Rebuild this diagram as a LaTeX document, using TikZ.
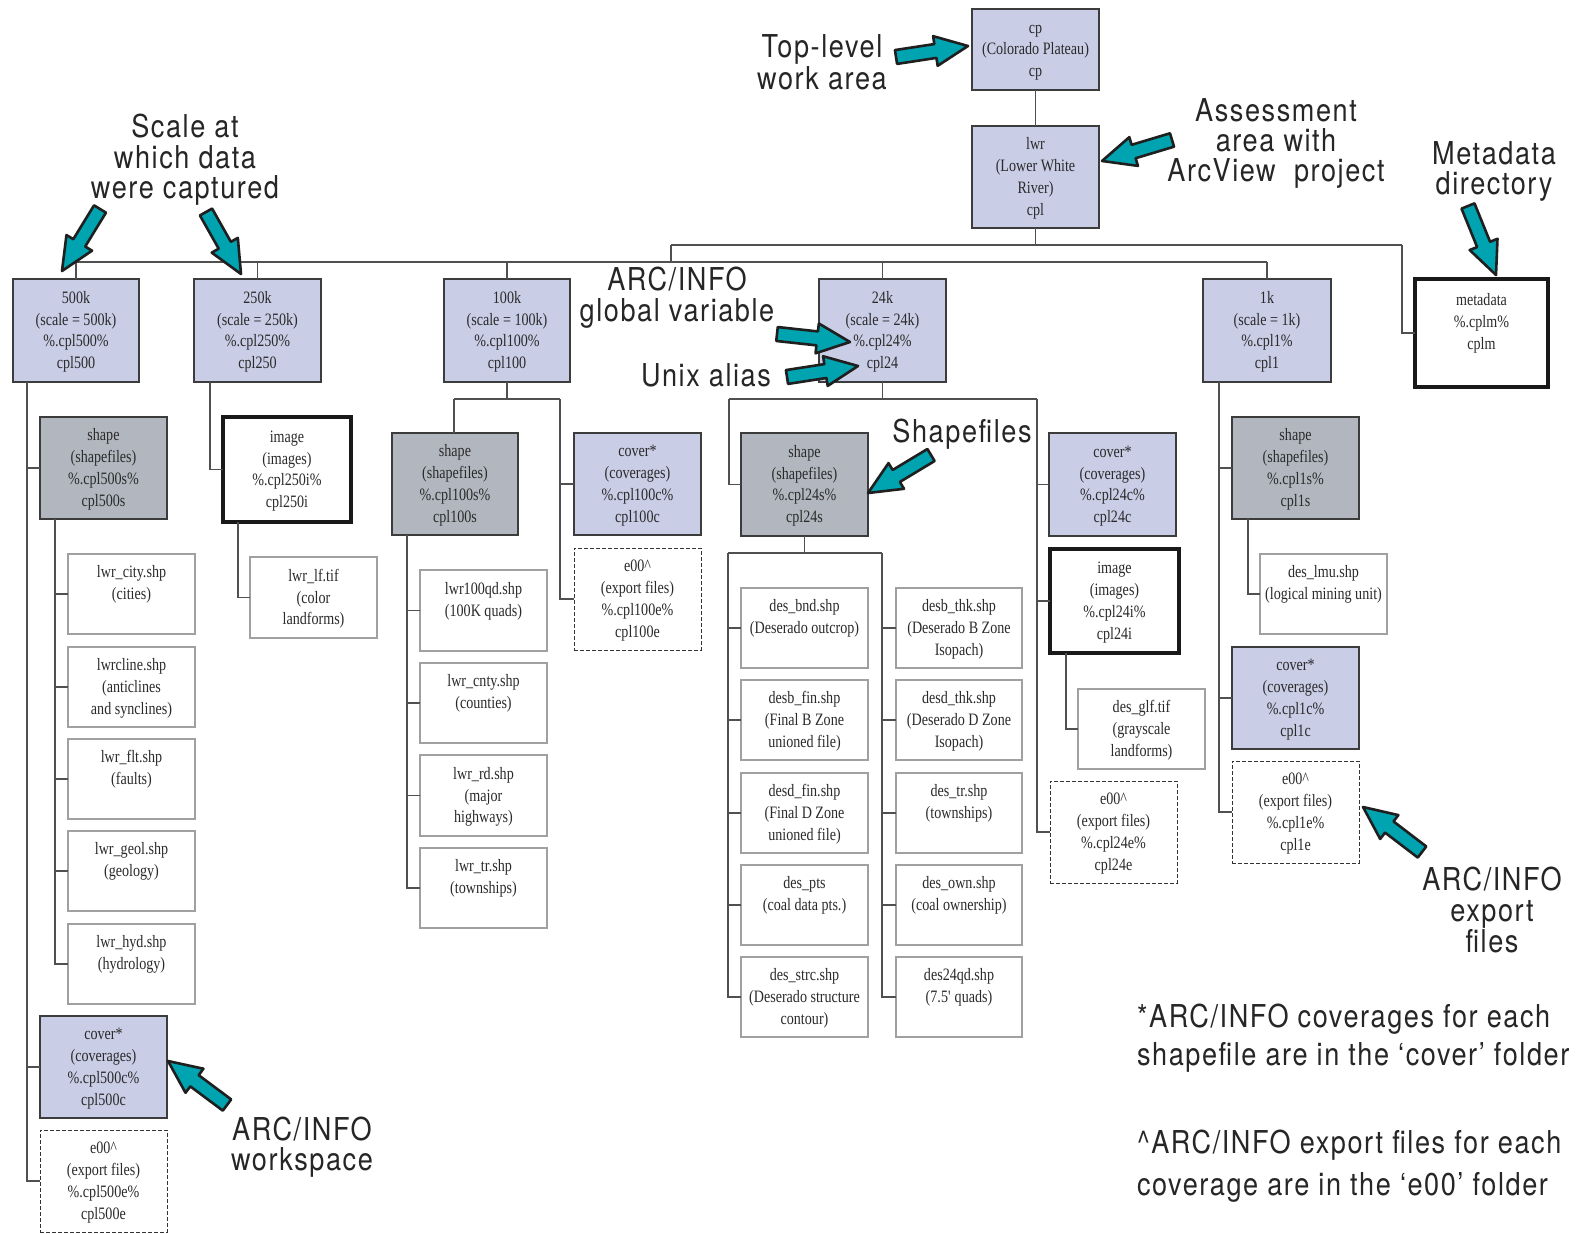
\documentclass[tikz,border=0pt]{standalone}
\usepackage{fontspec}
\usetikzlibrary{calc}
\newfontfamily\boxfont[FakeStretch=0.81]{Liberation Serif}
\newfontfamily\annfont[FakeStretch=0.86,LetterSpace=5]{TeX Gyre Heros}

\definecolor{bluefill}{HTML}{C9CDE6}
\definecolor{grayfill}{HTML}{B2B7BF}
\definecolor{arrowteal}{HTML}{00A3B0}
\definecolor{edge}{HTML}{3C3C3C}
\definecolor{lightedge}{HTML}{A0A0A0}
\definecolor{linec}{HTML}{505050}
\definecolor{txtc}{HTML}{2A2A2A}

\tikzset{
  dirbox/.style={draw=edge, line width=1.3pt, inner sep=0pt, outer sep=0pt,
    font=\boxfont\fontsize{17.4}{21.8}\selectfont, align=center, text=txtc},
  scalebox/.style={dirbox, fill=bluefill},
  shapebox/.style={dirbox, fill=grayfill},
  filebox/.style={dirbox, draw=lightedge, fill=white},
  imgbox/.style={dirbox, draw=black!90, line width=3.2pt, fill=white},
  metabox/.style={imgbox, line width=4.5pt},
  exportbox/.style={dirbox, draw=black!80, dash pattern=on 4pt off 2pt, line width=1pt, fill=white},
  conn/.style={draw=linec, line width=1.5pt},
  note/.style={font=\annfont\fontsize{31.5}{#1}\selectfont, text=black!85,
    align=center, inner sep=0pt, outer sep=0pt, anchor=north},
  note/.default=31,
  fatarr/.style={fill=arrowteal, draw=black!88, line width=2.6pt, line join=round},
}

% box given by its corners: style, name, x1, y1, x2, y2, text
% (the rules give every box the same line metrics, so the text sits evenly)
\newcommand\bx[7]{%
  \node[#1, minimum width={#5-#3}, minimum height={#6-#4}] (#2)
    at ({(#3+#5)/2},{(#4+#6)/2}) {\rule{0pt}{15pt}#7\rule[-4pt]{0pt}{4pt}};}
% block arrow from a tail point to a tip point
\newcommand\fatarrow[2]{%
  \draw[fatarr] let \p1=(#1), \p2=(#2),
    \n1={atan2(\y2-\y1,\x2-\x1)}, \n2={veclen(\x2-\x1,\y2-\y1)-33pt} in
    ($(\p1)+(\n1+90:7pt)$) -- ($(\p1)+(\n1:\n2)+(\n1+90:7pt)$)
    -- ($(\p1)+(\n1:\n2)+(\n1+90:15pt)$) -- (\p2)
    -- ($(\p1)+(\n1:\n2)+(\n1-90:15pt)$) -- ($(\p1)+(\n1:\n2)+(\n1-90:7pt)$)
    -- ($(\p1)+(\n1-90:7pt)$) -- cycle;}
\newcommand\ph{\phantom{x}}

\begin{document}
\begin{tikzpicture}[x=1pt, y=-1pt]
\fill[white] (0,0) rectangle (1594,1233);
\useasboundingbox (0,0) rectangle (1594,1233);

% top of the tree
\bx{scalebox}{cp}{972}{9}{1099}{90}{cp\\(Colorado Plateau)\\cp}
\bx{scalebox}{lwr}{972}{126}{1099}{228}{lwr\\(Lower White\\River)\\cpl}
\bx{metabox}{meta}{1415}{279}{1548}{387}{metadata\\\%.cplm\%\\cplm\\\ph}

% scale folders
\bx{scalebox}{k500}{13}{279}{139}{382}{500k\\(scale = 500k)\\\%.cpl500\%\\cpl500}
\bx{scalebox}{k250}{194}{279}{321}{382}{250k\\(scale = 250k)\\\%.cpl250\%\\cpl250}
\bx{scalebox}{k100}{444}{279}{570}{382}{100k\\(scale = 100k)\\\%.cpl100\%\\cpl100}
\bx{scalebox}{k24}{819}{279}{946}{382}{24k\\(scale = 24k)\\\%.cpl24\%\\cpl24}
\bx{scalebox}{k1}{1203}{279}{1331}{382}{1k\\(scale = 1k)\\\%.cpl1\%\\cpl1}

% 500k branch
\bx{shapebox}{shp500}{40}{417}{167}{519}{shape\\(shapefiles)\\\%.cpl500s\%\\cpl500s}
\bx{filebox}{city}{68}{554}{195}{634}{lwr\_city.shp\\(cities)\\\ph}
\bx{filebox}{cline}{68}{647}{195}{727}{lwrcline.shp\\(anticlines\\and synclines)}
\bx{filebox}{flt}{68}{739}{195}{819}{lwr\_flt.shp\\(faults)\\\ph}
\bx{filebox}{geol}{68}{831}{195}{911}{lwr\_geol.shp\\(geology)\\\ph}
\bx{filebox}{hyd}{68}{924}{195}{1004}{lwr\_hyd.shp\\(hydrology)\\\ph}
\bx{scalebox}{cov500}{40}{1016}{167}{1118}{cover*\\(coverages)\\\%.cpl500c\%\\cpl500c}
\bx{exportbox}{e500}{40}{1130}{167}{1232}{e00\textasciicircum\\(export files)\\\%.cpl500e\%\\cpl500e}

% 250k branch
\bx{imgbox}{img250}{223}{417}{351}{522}{image\\(images)\\\%.cpl250i\%\\cpl250i}
\bx{filebox}{lf}{250}{557}{377}{638}{lwr\_lf.tif\\(color\\landforms)}

% 100k branch
\bx{shapebox}{shp100}{392}{433}{518}{535}{shape\\(shapefiles)\\\%.cpl100s\%\\cpl100s}
\bx{scalebox}{cov100}{574}{433}{701}{535}{cover*\\(coverages)\\\%.cpl100c\%\\cpl100c}
\bx{exportbox}{e100}{574}{548}{701}{650}{e00\textasciicircum\\(export files)\\\%.cpl100e\%\\cpl100e}
\bx{filebox}{qd100}{420}{570}{547}{651}{lwr100qd.shp\\(100K quads)\\\ph}
\bx{filebox}{cnty}{420}{663}{547}{743}{lwr\_cnty.shp\\(counties)\\\ph}
\bx{filebox}{rd}{420}{755}{547}{836}{lwr\_rd.shp\\(major\\highways)}
\bx{filebox}{tr100}{420}{848}{547}{928}{lwr\_tr.shp\\(townships)\\\ph}

% 24k branch
\bx{shapebox}{shp24}{741}{433}{868}{536}{shape\\(shapefiles)\\\%.cpl24s\%\\cpl24s}
\bx{scalebox}{cov24}{1049}{433}{1176}{536}{cover*\\(coverages)\\\%.cpl24c\%\\cpl24c}
\bx{imgbox}{img24}{1050}{549}{1179}{653}{image\\(images)\\\%.cpl24i\%\\cpl24i}
\bx{filebox}{glf}{1078}{689}{1205}{769}{des\_glf.tif\\(grayscale\\landforms)}
\bx{exportbox}{e24}{1050}{781}{1177}{883}{e00\textasciicircum\\(export files)\\\%.cpl24e\%\\cpl24e}
\bx{filebox}{bnd}{741}{588}{868}{668}{des\_bnd.shp\\(Deserado outcrop)\\\ph}
\bx{filebox}{bfin}{741}{680}{868}{760}{desb\_fin.shp\\(Final B Zone\\unioned file)}
\bx{filebox}{dfin}{741}{773}{868}{853}{desd\_fin.shp\\(Final D Zone\\unioned file)}
\bx{filebox}{pts}{741}{865}{868}{945}{des\_pts\\(coal data pts.)\\\ph}
\bx{filebox}{strc}{741}{957}{868}{1037}{des\_strc.shp\\(Deserado structure\\contour)}
\bx{filebox}{bthk}{896}{588}{1022}{668}{desb\_thk.shp\\(Deserado B Zone\\Isopach)}
\bx{filebox}{dthk}{896}{680}{1022}{760}{desd\_thk.shp\\(Deserado D Zone\\Isopach)}
\bx{filebox}{tr24}{896}{773}{1022}{853}{des\_tr.shp\\(townships)\\\ph}
\bx{filebox}{own}{896}{865}{1022}{945}{des\_own.shp\\(coal ownership)\\\ph}
\bx{filebox}{qd24}{896}{957}{1022}{1037}{des24qd.shp\\(7.5\textquotesingle{} quads)\\\ph}

% 1k branch
\bx{shapebox}{shp1}{1232}{417}{1359}{519}{shape\\(shapefiles)\\\%.cpl1s\%\\cpl1s}
\bx{filebox}{lmu}{1260}{554}{1387}{634}{des\_lmu.shp\\(logical mining unit)\\\ph}
\bx{scalebox}{cov1}{1232}{647}{1359}{749}{cover*\\(coverages)\\\%.cpl1c\%\\cpl1c}
\bx{exportbox}{e1}{1232}{761}{1359}{863}{e00\textasciicircum\\(export files)\\\%.cpl1e\%\\cpl1e}

% ---- connectors ----
\coordinate (hubTop) at (1036,245);
\coordinate (hubL) at (671,245);
\coordinate (hubR) at (1402,245);
\coordinate (busy) at (671,262);
\draw[conn] (cp.south) -- (lwr.north);
\draw[conn] (lwr.south) -- (lwr.south |- hubTop);
\draw[conn] (hubL) -- (hubR);
\draw[conn] (hubR) |- (meta.west);
\draw[conn] (hubL) -- (busy);
\draw[conn] (k500.north |- busy) -- (k1.north |- busy);
\foreach \n in {k500,k250,k100,k24,k1} \draw[conn] (\n.north |- busy) -- (\n.north);

% 500k
\coordinate (t500) at (27,382);
\draw[conn] (t500) |- (e500.west);
\foreach \n in {shp500,cov500} \draw[conn] (t500 |- \n.west) -- (\n.west);
\coordinate (t500s) at (55,519);
\draw[conn] (t500s) |- (hyd.west);
\foreach \n in {city,cline,flt,geol} \draw[conn] (t500s |- \n.west) -- (\n.west);

% 250k
\coordinate (t250) at (210,382);
\draw[conn] (t250) |- (img250.west);
\coordinate (t250i) at (238,522);
\draw[conn] (t250i) |- (lf.west);

% 100k
\coordinate (j100L) at (454,399);
\coordinate (j100R) at (560,399);
\draw[conn] (k100.south) -- (k100.south |- j100L);
\draw[conn] (j100L) -- (j100R);
\draw[conn] (j100L) -- (j100L |- shp100.north);
\draw[conn] (j100R) |- (e100.west);
\draw[conn] (j100R |- cov100.west) -- (cov100.west);
\coordinate (t100s) at (407,535);
\draw[conn] (t100s) |- (tr100.west);
\foreach \n in {qd100,cnty,rd} \draw[conn] (t100s |- \n.west) -- (\n.west);

% 24k
\coordinate (j24L) at (729,399);
\coordinate (j24R) at (1037,399);
\draw[conn] (k24.south) -- (k24.south |- j24L);
\draw[conn] (j24L) -- (j24R);
\draw[conn] (j24L) |- (shp24.west);
\draw[conn] (j24R) |- (e24.west);
\foreach \n in {cov24,img24} \draw[conn] (j24R |- \n.west) -- (\n.west);
\coordinate (j24sL) at (728,553);
\coordinate (j24sR) at (882,553);
\draw[conn] (shp24.south) -- (shp24.south |- j24sL);
\draw[conn] (j24sL) -- (j24sR);
\draw[conn] (j24sL) |- (strc.west);
\draw[conn] (j24sR) |- (qd24.west);
\foreach \n in {bnd,bfin,dfin,pts} \draw[conn] (j24sL |- \n.west) -- (\n.west);
\foreach \n in {bthk,dthk,tr24,own} \draw[conn] (j24sR |- \n.west) -- (\n.west);
\coordinate (t24i) at (1066,653);
\draw[conn] (t24i) |- (glf.west);

% 1k
\coordinate (t1) at (1219,382);
\draw[conn] (t1) |- (e1.west);
\foreach \n in {shp1,cov1} \draw[conn] (t1 |- \n.west) -- (\n.west);
\coordinate (t1s) at (1248,519);
\draw[conn] (t1s) |- (lmu.west);

% ---- pointer arrows ----
\coordinate (aTopT) at (896,57);   \coordinate (aTopH) at (968,46);
\coordinate (aAssT) at (1172,140); \coordinate (aAssH) at (1102,161);
\coordinate (aMetaT) at (1468,206);\coordinate (aMetaH) at (1496,275);
\coordinate (aSc1T) at (100,209);  \coordinate (aSc1H) at (62,271);
\coordinate (aSc2T) at (206,212);  \coordinate (aSc2H) at (241,274);
\coordinate (aGlobT) at (777,334); \coordinate (aGlobH) at (850,342);
\coordinate (aUnixT) at (787,377); \coordinate (aUnixH) at (858,366);
\coordinate (aShpT) at (931,455);  \coordinate (aShpH) at (868,493);
\coordinate (aWsT) at (227,1105);  \coordinate (aWsH) at (168,1061);
\coordinate (aExT) at (1422,852);  \coordinate (aExH) at (1363,807);
\fatarrow{aTopT}{aTopH}
\fatarrow{aAssT}{aAssH}
\fatarrow{aMetaT}{aMetaH}
\fatarrow{aSc1T}{aSc1H}
\fatarrow{aSc2T}{aSc2H}
\fatarrow{aGlobT}{aGlobH}
\fatarrow{aUnixT}{aUnixH}
\fatarrow{aShpT}{aShpH}
\fatarrow{aWsT}{aWsH}
\fatarrow{aExT}{aExH}

% ---- annotations ----
\node[note=32] (nTop) at (822,35) {Top-level\\work area};
\node[note=30.5] (nScale) at (185,114) {Scale at\\which data\\were captured};
\node[note=31] (nGlob) at (677,267) {ARC/INFO\\global variable};
\node[note] (nUnix) at (706,364) {Unix alias};
\node[note] (nShp) at (962,419) {Shapefiles};
\node[note=30] (nAss) at (1276,99) {Assessment\\area with\\ArcView~~project};
\node[note=29.5] (nMeta) at (1494,142) {Metadata\\directory};
\node[note=30] (nWs) at (302,1117) {ARC/INFO\\workspace};
\node[note=31] (nEx) at (1492,867) {ARC/INFO\\export\\files};
\node[note=38, align=left, anchor=north west] (nFn1) at (1137,1004)
  {*ARC/INFO coverages for each\\shapefile are in the ‘cover’ folder};
\node[note=42, align=left, anchor=north west] (nFn2) at (1137,1130)
  {\textasciicircum ARC/INFO export files for each\\coverage are in the ‘e00’ folder};
\end{tikzpicture}
\end{document}
